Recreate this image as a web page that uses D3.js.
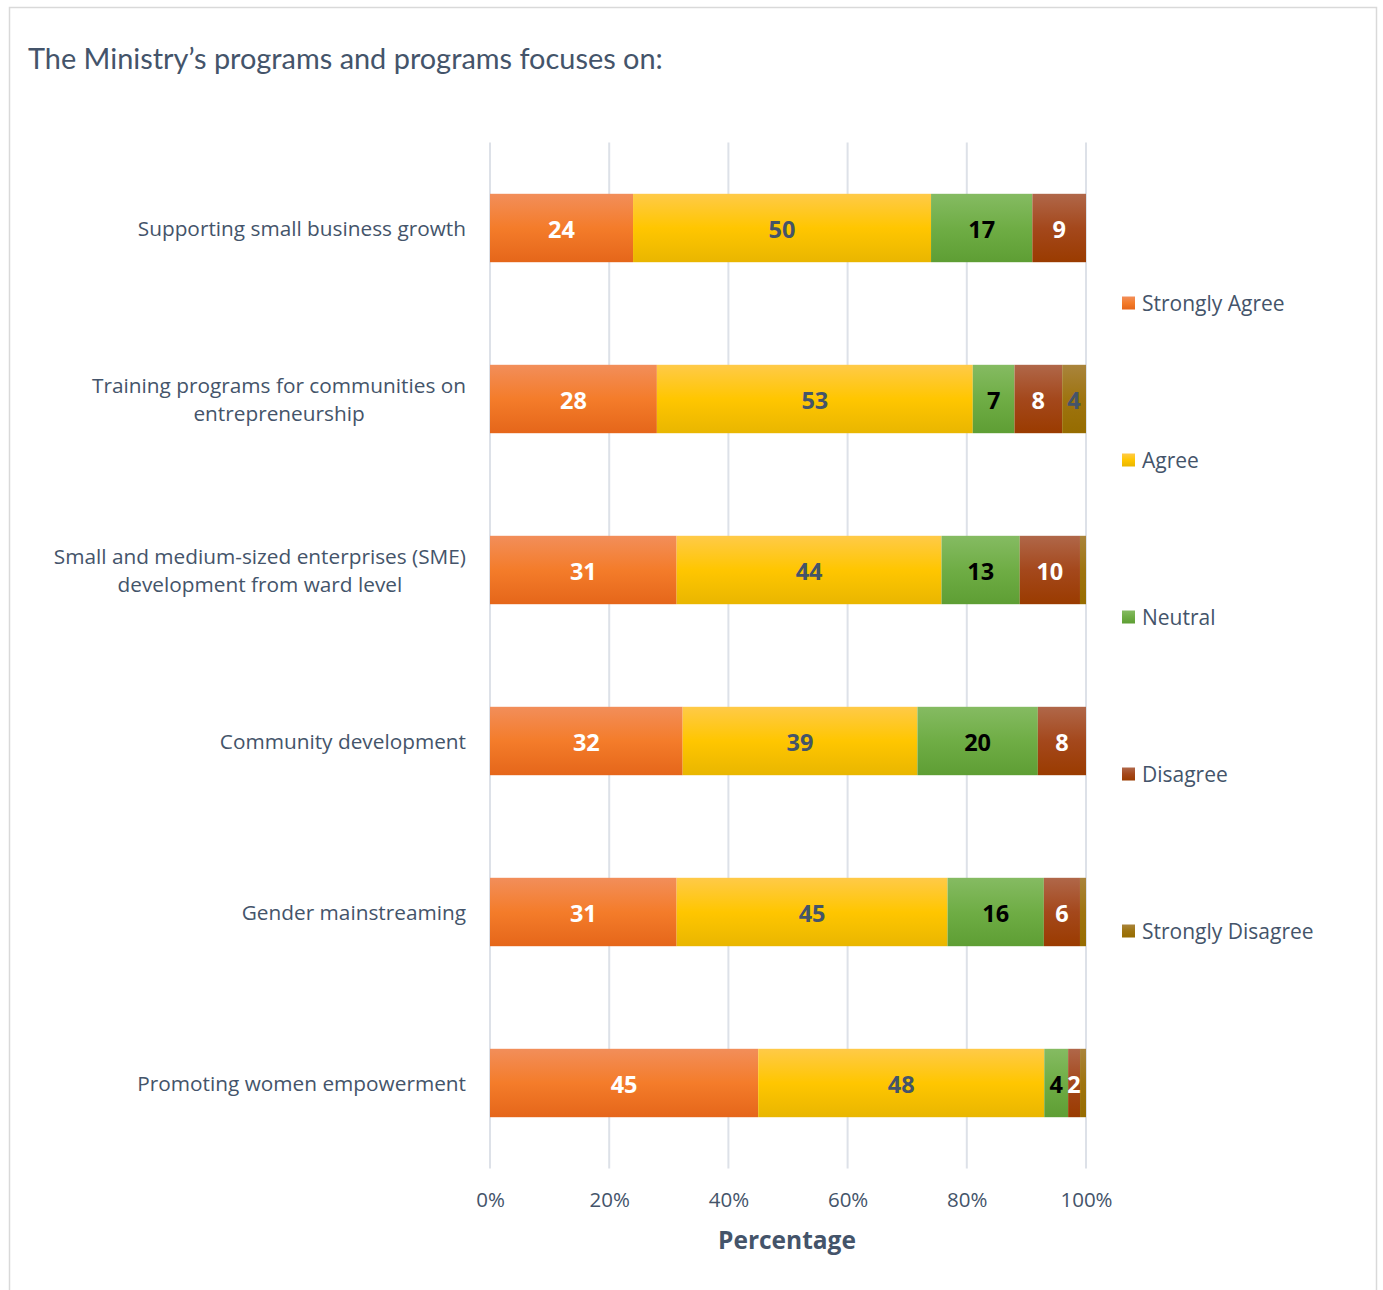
<!DOCTYPE html>
<html>
<head>
<meta charset="utf-8">
<script src="https://cdn.jsdelivr.net/npm/d3@7"></script>
<style>
  html, body { margin: 0; padding: 0; background: #ffffff; }
  svg { display: block; }
</style>
</head>
<body>
<svg id="chart" width="1383" height="1290"></svg>
<script>
// Survey items (top to bottom)
const categories = [
  "Supporting small business growth",
  "Training programs for communities on entrepreneurship",
  "Small and medium-sized enterprises (SME) development from ward level",
  "Community development",
  "Gender mainstreaming",
  "Promoting women empowerment"
];
// Wrapped label lines for each item
const categoryLines = [
  ["Supporting small business growth"],
  ["Training programs for communities on", "entrepreneurship"],
  ["Small and medium-sized enterprises (SME)", "development from ward level"],
  ["Community development"],
  ["Gender mainstreaming"],
  ["Promoting women empowerment"]
];
const seriesNames = ["Strongly Agree", "Agree", "Neutral", "Disagree", "Strongly Disagree"];
const stronglyAgree    = [24, 28, 31, 32, 31, 45];
const agree            = [50, 53, 44, 39, 45, 48];
const neutral          = [17,  7, 13, 20, 16,  4];
const disagree         = [ 9,  8, 10,  8,  6,  2];
const stronglyDisagree = [ 0,  4,  1,  0,  1,  1];
const tickLabels = ["0%", "20%", "40%", "60%", "80%", "100%"];
const tickValues = [0, 0.2, 0.4, 0.6, 0.8, 1];

const seriesValues = [stronglyAgree, agree, neutral, disagree, stronglyDisagree];

// Segment styling: gradient stops (top, middle, bottom) and label colour
const seriesStyle = [
  { stops: ["#f28e5a", "#f47c2a", "#e5661a"], label: "#ffffff" },
  { stops: ["#ffca48", "#ffc600", "#e9b600"], label: "#44546a" },
  { stops: ["#85bb62", "#6fad45", "#5e9e34"], label: "#000000" },
  { stops: ["#b06749", "#a4481c", "#9a3b00"], label: "#ffffff" },
  { stops: ["#a9843c", "#9e7410", "#966c00"], label: "#44546a" }
];

const rows = categories.map((c, i) => {
  const r = { category: c };
  seriesNames.forEach((s, k) => { r[s] = seriesValues[k][i]; });
  r.total = seriesNames.reduce((a, s) => a + r[s], 0);
  return r;
});

const svg = d3.select("#chart");
const textColor = "#44546a";

// Chart frame
svg.append("rect")
  .attr("x", 9.5).attr("y", 7.5)
  .attr("width", 1367).attr("height", 1290)
  .attr("fill", "#ffffff")
  .attr("stroke", "#d9d9d9").attr("stroke-width", 1.5);

// Title
svg.append("text")
  .attr("x", 28).attr("y", 69)
  .attr("font-family", "Lato, 'Open Sans', sans-serif")
  .attr("font-size", 28.9)
  .attr("fill", textColor)
  .text("The Ministry\u2019s programs and programs focuses on:");

const plot = { left: 490, right: 1086, top: 142.5, bottom: 1168.5 };

const x = d3.scaleLinear().domain([0, 1]).range([plot.left, plot.right]);
const y = d3.scaleBand().domain(categories).range([plot.top, plot.bottom]).paddingInner(0.6).paddingOuter(0.3);

// Gradients
const defs = svg.append("defs");
seriesStyle.forEach((st, k) => {
  const g = defs.append("linearGradient")
    .attr("id", "grad" + k)
    .attr("x1", 0).attr("y1", 0).attr("x2", 0).attr("y2", 1);
  g.append("stop").attr("offset", "0%").attr("stop-color", st.stops[0]);
  g.append("stop").attr("offset", "50%").attr("stop-color", st.stops[1]);
  g.append("stop").attr("offset", "100%").attr("stop-color", st.stops[2]);
});

// Vertical gridlines
svg.append("g")
  .selectAll("line")
  .data(tickValues)
  .join("line")
  .attr("x1", d => x(d)).attr("x2", d => x(d))
  .attr("y1", plot.top).attr("y2", plot.bottom)
  .attr("stroke", "#dde1e8").attr("stroke-width", 2);

// Stacked (normalised) bars
const stack = d3.stack().keys(seriesNames).value((d, key) => d[key] / d.total);
const layers = stack(rows);

const layerG = svg.append("g")
  .selectAll("g")
  .data(layers)
  .join("g")
  .attr("fill", (d, k) => `url(#grad${k})`);

layerG.selectAll("rect")
  .data(d => d.filter(p => p.data[d.key] > 0))
  .join("rect")
  .attr("x", p => x(p[0]))
  .attr("y", p => y(p.data.category))
  .attr("width", p => x(p[1]) - x(p[0]))
  .attr("height", y.bandwidth());

// Value labels
const labelG = svg.append("g")
  .attr("font-family", "'Open Sans', Lato, sans-serif")
  .attr("font-weight", 700)
  .attr("font-size", 23.5)
  .attr("text-anchor", "middle");

layers.forEach((layer, k) => {
  labelG.selectAll(null)
    .data(layer.filter(p => p.data[layer.key] >= 2))
    .join("text")
    .attr("x", p => (x(p[0]) + x(p[1])) / 2)
    .attr("y", p => y(p.data.category) + y.bandwidth() / 2)
    .attr("dy", "0.42em")
    .attr("fill", seriesStyle[k].label)
    .text(p => p.data[layer.key]);
});

// Category labels: right-aligned block, lines centred within the block
const catG = svg.append("g")
  .attr("font-family", "'Open Sans', sans-serif")
  .attr("font-size", 20.8)
  .attr("fill", textColor)
  .attr("text-anchor", "middle");

const labelRight = 466;
categories.forEach((c, i) => {
  const lines = categoryLines[i];
  const cy = y(c) + y.bandwidth() / 2;
  const lh = 28;
  const t = catG.append("text").attr("y", cy - (lines.length - 1) * lh / 2 + 7.5);
  const spans = lines.map((ln, j) => t.append("tspan")
    .attr("dy", j === 0 ? 0 : lh)
    .text(ln));
  const maxW = d3.max(spans, s => s.node().getComputedTextLength());
  spans.forEach(s => s.attr("x", labelRight - maxW / 2));
});

// X axis tick labels
const xAxis = d3.axisBottom(x)
  .tickValues(tickValues)
  .tickFormat((d, i) => tickLabels[i])
  .tickSize(0)
  .tickPadding(0);

const axG = svg.append("g")
  .attr("transform", `translate(0, ${plot.bottom + 24})`)
  .call(xAxis);
axG.select(".domain").remove();
axG.selectAll("text")
  .attr("font-family", "'Open Sans', sans-serif")
  .attr("font-size", 20.5)
  .attr("fill", textColor);

// Axis title
svg.append("text")
  .attr("x", 787).attr("y", 1249)
  .attr("text-anchor", "middle")
  .attr("font-family", "'Open Sans', sans-serif")
  .attr("font-weight", 700)
  .attr("font-size", 24.5)
  .attr("fill", textColor)
  .text("Percentage");

// Legend
const legend = svg.append("g")
  .selectAll("g")
  .data(seriesNames)
  .join("g")
  .attr("transform", (d, i) => `translate(1122, ${303.5 + i * 157})`);

legend.append("rect")
  .attr("x", 0).attr("y", -7)
  .attr("width", 13).attr("height", 13)
  .attr("fill", (d, i) => `url(#grad${i})`);

legend.append("text")
  .attr("x", 20).attr("y", 0)
  .attr("dy", "0.35em")
  .attr("font-family", "'Open Sans', sans-serif")
  .attr("font-size", 21)
  .attr("fill", textColor)
  .text(d => d);
</script>
</body>
</html>
